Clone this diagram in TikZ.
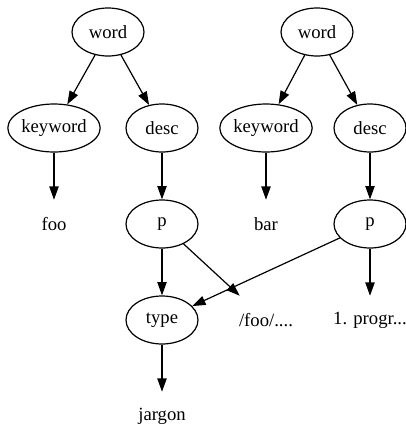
\documentclass[tikz,border=0pt]{standalone}
\usepackage{fontspec}
\setmainfont{Liberation Serif}
\usepackage{tikz}
\usetikzlibrary{shapes.geometric, arrows.meta, positioning}

\begin{document}
\begin{tikzpicture}[node distance=72pt, font=\fontsize{14}{16}\selectfont]
	\tikzstyle{field} = [ellipse, minimum width=54pt, minimum height=36pt, 
	inner sep=0pt, text centered, draw=black, line width=0.9pt]
	\tikzstyle{leaf} = [rectangle, minimum height=36pt, inner sep=0pt, 
	text centered]
	\tikzstyle{arrow} = [line width=0.9pt,-{Triangle[length=10pt,width=7pt]}]
	\useasboundingbox (0,0) rectangle (304.5pt,-318.75pt);
	\node (leftWord) [field] at (81pt,-24pt) {word};
	\node (leftKeyword) [field, below of=leftWord, xshift=-40.5pt] {keyword};
	\node (leftDesc) [field, below of=leftWord, xshift=40.5pt] {desc};
	\node (foo) [leaf, below of=leftKeyword] {foo};
	\node (leftP) [field, below of=leftDesc] {p};
	\node (type) [field, below of=leftP] {type};
	\node (jargon) [leaf, below of=type] {jargon};
	\node (rightWord) [field] at (237.75pt,-24pt) {word};
	\node (rightKeyword) [field, below of=rightWord, xshift=-38.25pt] {keyword};
	\node (rightDesc) [field, below of=rightWord, xshift=39.75pt] {desc};
	\node (bar) [leaf, below of=rightKeyword] {bar};
	\node (rightP) [field, below of=rightDesc] {p};
	\node (fooPath) [leaf, below of=bar] {/foo/....};
	\node (progr) [leaf, below of=rightP] {1. progr...};
	\draw [arrow] (leftWord) -- (leftKeyword);
	\draw [arrow] (leftWord) -- (leftDesc);
	\draw [arrow] (leftKeyword) -- (foo);
	\draw [arrow] (leftDesc) -- (leftP);
	\draw [arrow] (leftP) -- (type);
	\draw [arrow] (leftP) -- (fooPath);
	\draw [arrow] (type) -- (jargon);
	\draw [arrow] (rightWord) -- (rightKeyword);
	\draw [arrow] (rightWord) -- (rightDesc);
	\draw [arrow] (rightKeyword) -- (bar);
	\draw [arrow] (rightDesc) -- (rightP);
	\draw [arrow] (rightP) -- (type);
	\draw [arrow] (rightP) -- (progr);
\end{tikzpicture}
\end{document}
